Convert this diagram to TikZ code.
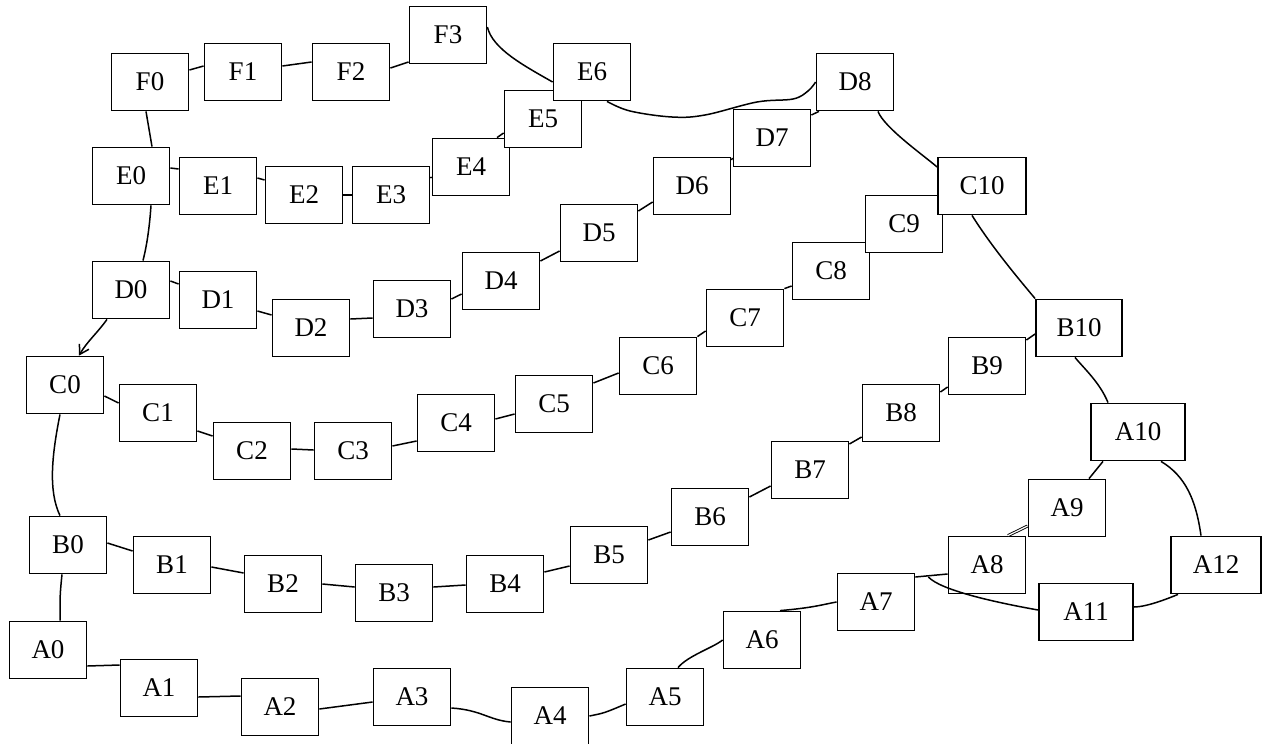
\documentclass[tikz,border=0pt]{standalone}
\usepackage{fontspec}
\setmainfont{Liberation Serif}
\usetikzlibrary{calc,arrows.meta}
\begin{document}
\begin{tikzpicture}[x=1pt,y=-1pt,
  box/.style={draw, fill=white, line width=1.8pt, minimum width=77pt, minimum height=57pt,
    inner sep=0pt, font=\fontsize{27}{32}\selectfont},
  link/.style={line width=1.5pt}]
\useasboundingbox (0,0) rectangle (1266,744);
% ---------- nodes ----------
\node[box] (F0) at (150,82) {F0};
\node[box] (F1) at (243,72) {F1};
\node[box] (F2) at (351,72) {F2};
\node[box] (F3) at (448,35) {F3};
\node[box] (E0) at (131,176) {E0};
\node[box] (E1) at (218,186) {E1};
\node[box] (E2) at (304,195) {E2};
\node[box] (E3) at (391,195) {E3};
\node[box] (E4) at (471,167) {E4};
\node[box] (E5) at (543,119) {E5};
\node[box] (E6) at (592,72) {E6};
\node[box] (D0) at (131,290) {D0};
\node[box] (D1) at (218,300) {D1};
\node[box] (D2) at (311,328) {D2};
\node[box] (D3) at (412,309) {D3};
\node[box] (D4) at (501,281) {D4};
\node[box] (D5) at (599,233) {D5};
\node[box] (D6) at (692,186) {D6};
\node[box] (D7) at (772,138) {D7};
\node[box] (D8) at (855,82) {D8};
\node[box] (C0) at (65,385) {C0};
\node[box] (C1) at (158,413) {C1};
\node[box] (C2) at (252,451) {C2};
\node[box] (C3) at (353,451) {C3};
\node[box] (C4) at (456,423) {C4};
\node[box] (C5) at (554,404) {C5};
\node[box] (C6) at (658,366) {C6};
\node[box] (C7) at (745,318) {C7};
\node[box] (C8) at (831,271) {C8};
\node[box] (C9) at (904,224) {C9};
\node[box, minimum width=88pt] (C10) at (982,186) {C10};
\node[box] (B0) at (68,545) {B0};
\node[box] (B1) at (172,565) {B1};
\node[box] (B2) at (283,584) {B2};
\node[box] (B3) at (394,593) {B3};
\node[box] (B4) at (505,584) {B4};
\node[box] (B5) at (609,555) {B5};
\node[box] (B6) at (710,517) {B6};
\node[box] (B7) at (810,470) {B7};
\node[box] (B8) at (901,413) {B8};
\node[box] (B9) at (987,366) {B9};
\node[box, minimum width=86pt] (B10) at (1079,328) {B10};
\node[box] (A0) at (48,650) {A0};
\node[box] (A1) at (159,688) {A1};
\node[box] (A2) at (280,707) {A2};
\node[box] (A3) at (412,697) {A3};
\node[box] (A4) at (550,716) {A4};
\node[box] (A5) at (665,697) {A5};
\node[box] (A6) at (762,640) {A6};
\node[box] (A7) at (876,602) {A7};
\node[box] (A8) at (987,565) {A8};
\node[box] (A9) at (1067,508) {A9};
\node[box, minimum width=94pt] (A10) at (1138,432) {A10};
\node[box, minimum width=94pt] (A11) at (1086,612) {A11};
\node[box, minimum width=90pt] (A12) at (1216,565) {A12};
% ---------- F chain ----------
\draw[link] ($(F0.east)+(0,-12)$) -- ($(F1.west)+(0,-6)$);
\draw[link] ($(F1.east)+(0,-6)$) -- ($(F2.west)+(0,-10)$);
\draw[link] ($(F2.east)+(0,-4)$) -- ($(F3.west)+(0,27)$);
\draw[link] ($(F3.east)+(0,-8)$) .. controls +(5,22) and +(-28,-16) .. ($(E6.west)+(0,10)$);
\draw[link] ($(F0.south)+(-4,0)$) -- ($(E0.north)+(21,0)$);
% ---------- E chain ----------
\draw[link] ($(E0.east)+(0,-8)$) -- ($(E1.west)+(0,-17)$);
\draw[link] ($(E1.east)+(0,-8)$) -- ($(E2.west)+(0,-15)$);
\draw[link] (E2.east) -- (E3.west);
\draw[link] ($(E3.east)+(0,-17)$) -- ($(E4.west)+(0,10)$);
\draw[link] ($(E4.north)+(26,0)$) -- ($(E5.west)+(0,14)$);
\coordinate (e6s) at ($(E6.south)+(15,0)$);
\draw[link] plot[smooth,tension=0.6] coordinates {(e6s) (630,111) (672,117) (705,115) (757,102) (793,99) (808,91) (D8.west)};
\draw[link] ($(E0.south)+(20,0)$) .. controls +(-2,30) and +(2,-8) .. ($(D0.north)+(12,0)$);
% ---------- D chain ----------
\draw[link] ($(D0.east)+(0,-9)$) -- ($(D1.west)+(0,-16)$);
\draw[link] ($(D1.east)+(0,11)$) -- ($(D2.west)+(0,-13)$);
\draw[link] ($(D2.east)+(0,-9)$) -- ($(D3.west)+(0,9)$);
\draw[link] ($(D3.east)+(0,-10)$) -- ($(D4.west)+(0,13)$);
\draw[link] ($(D4.east)+(0,-20)$) -- ($(D5.west)+(0,18)$);
\draw[link] ($(D5.east)+(0,-22)$) -- ($(D6.west)+(0,16)$);
\draw[link] ($(D6.east)+(0,-26)$) -- ($(D7.west)+(0,20)$);
\draw[link] ($(D7.east)+(0,-23)$) -- ($(D8.south)+(-36,0)$);
\draw[link] ($(D8.south)+(23,0)$) .. controls +(6,16) and +(-14,-12) .. ($(C10.west)+(0,-19)$);
\draw[link,-{Straight Barb[length=9pt,width=11pt]}] ($(D0.south)+(-24,0)$) .. controls +(-10,14) and +(8,-14) .. ($(C0.north)+(14,0)$);
% ---------- C chain ----------
\draw[link] ($(C0.east)+(0,11)$) -- ($(C1.west)+(0,-10)$);
\draw[link] ($(C1.east)+(0,18)$) -- ($(C2.west)+(0,-15)$);
\draw[link] ($(C2.east)+(0,-2)$) -- ($(C3.west)+(0,-1)$);
\draw[link] ($(C3.east)+(0,-5)$) -- ($(C4.west)+(0,18)$);
\draw[link] ($(C4.east)+(0,-4)$) -- ($(C5.west)+(0,10)$);
\draw[link] ($(C5.east)+(0,-21)$) -- ($(C6.west)+(0,7)$);
\draw[link] (C6.north east) -- ($(C7.west)+(0,13)$);
\draw[link] (C7.north east) -- ($(C8.west)+(0,15)$);
\draw[link] ($(C10.south)+(-10,0)$) .. controls +(20,32) and +(-15,-18) .. (B10.north west);
\draw[link] ($(C0.south)+(-5,0)$) .. controls +(-8,40) and +(-12,-25) .. ($(B0.north)+(-8,0)$);
% ---------- B chain ----------
\draw[link] ($(B0.east)+(0,-2)$) -- ($(B1.west)+(0,-14)$);
\draw[link] ($(B1.east)+(0,2)$) -- ($(B2.west)+(0,-11)$);
\draw[link] (B2.east) -- ($(B3.west)+(0,-6)$);
\draw[link] ($(B3.east)+(0,-6)$) -- ($(B4.west)+(0,1)$);
\draw[link] ($(B4.east)+(0,-12)$) -- ($(B5.west)+(0,11)$);
\draw[link] ($(B5.east)+(0,-15)$) -- ($(B6.west)+(0,15)$);
\draw[link] ($(B6.east)+(0,-20)$) -- ($(B7.west)+(0,16)$);
\draw[link] ($(B7.east)+(0,-26)$) -- ($(B8.west)+(0,24)$);
\draw[link] ($(B8.east)+(0,-21)$) -- ($(B9.west)+(0,21)$);
\draw[link] ($(B9.east)+(0,-26)$) -- ($(B10.west)+(0,6)$);
\draw[link] ($(B10.south)+(-4,0)$) .. controls +(8,10) and +(-8,-20) .. ($(A10.north)+(-30,0)$);
\draw[link] ($(B0.south)+(-6,0)$) .. controls +(-2,20) .. ($(A0.north)+(12,0)$);
% ---------- A chain ----------
\draw[link] ($(A0.east)+(0,16)$) -- ($(A1.west)+(0,-23)$);
\draw[link] ($(A1.east)+(0,9)$) -- ($(A2.west)+(0,-11)$);
\draw[link] ($(A2.east)+(0,2)$) -- ($(A3.west)+(0,5)$);
\draw[link] ($(A3.east)+(0,11)$) .. controls +(30,2) and +(-22,-2) .. ($(A4.west)+(0,6)$);
\draw[link] (A4.east) .. controls +(15,-3) .. ($(A5.west)+(0,7)$);
\draw[link] ($(A5.north)+(13,0)$) .. controls +(10,-12) and +(-10,8) .. (A6.west);
\draw[link] ($(A6.north)+(18,0)$) .. controls +(35,-3) and +(-12,2) .. (A7.west);
\draw[link] ($(A7.east)+(0,-25)$) -- ($(A8.west)+(0,9)$);
\draw[link] ($(A7.east)+(13,-25)$) .. controls +(12,13) and +(-45,-8) .. ($(A11.west)+(0,-2)$);
\draw[link, double, double distance=1.2pt, line width=0.9pt] ($(A8.north)+(21,0)$) -- ($(A9.west)+(0,18)$);
\draw[link] ($(A9.north)+(22,0)$) -- ($(A10.south)+(-35,0)$);
\draw[link] ($(A10.south)+(23,0)$) .. controls +(25,15) and +(-5,-35) .. ($(A12.north)+(-15,0)$);
\draw[link] ($(A12.south)+(-38,0)$) .. controls +(-12,5) and +(12,0) .. ($(A11.east)+(0,-5)$);
\end{tikzpicture}
\end{document}
